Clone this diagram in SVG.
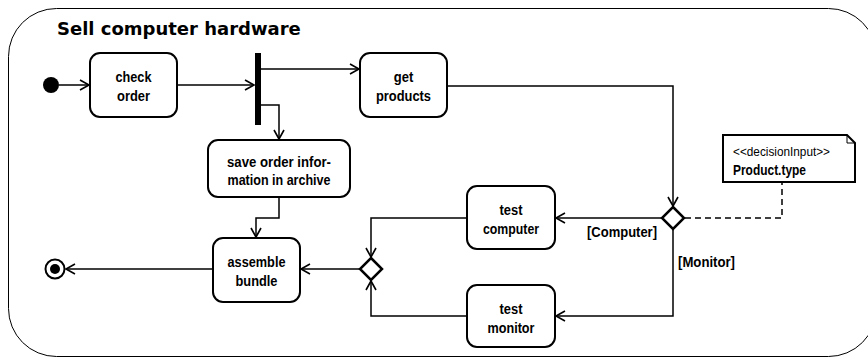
<svg xmlns="http://www.w3.org/2000/svg" width="868" height="358" viewBox="0 0 868 358">
<defs>
<style>
.frame{fill:#fff;stroke:#000;stroke-width:1}
.act{fill:#fff;stroke:#000;stroke-width:2}
.t{font-family:"Liberation Sans",Arial,sans-serif;font-size:15px;font-weight:bold;text-anchor:middle;fill:#000}
.lbl{font-family:"Liberation Sans",Arial,sans-serif;font-size:15px;font-weight:bold;fill:#000}
.edge{fill:none;stroke:#000;stroke-width:1.5}
.dash{fill:none;stroke:#000;stroke-width:1.5;stroke-dasharray:6,4}
.dia{fill:#fff;stroke:#000;stroke-width:2.5}
</style>
<marker id="arr" markerWidth="12" markerHeight="12" refX="10" refY="6" orient="auto" markerUnits="userSpaceOnUse">
<path d="M1,1 L10,6 L1,11" fill="none" stroke="#000" stroke-width="1.6"/>
</marker>
</defs>
<rect class="frame" x="8.5" y="8.5" width="868" height="348" rx="48" ry="48"/>
<text x="57" y="35" style="font-family:'DejaVu Sans',sans-serif;font-size:18px;font-weight:bold">Sell computer hardware</text>

<g id="connectors">
<path class="edge" d="M59,85 L89,85" marker-end="url(#arr)"/>
<path class="edge" d="M177,85 L254,85" marker-end="url(#arr)"/>
<path class="edge" d="M261,69 L359,69" marker-end="url(#arr)"/>
<path class="edge" d="M261,105 L279,105 L279,139" marker-end="url(#arr)"/>
<path class="edge" d="M447,86 L673,86 L673,206" marker-end="url(#arr)"/>
<path class="edge" d="M662,218 L556,218" marker-end="url(#arr)"/>
<path class="edge" d="M673,229 L673,316 L556,316" marker-end="url(#arr)"/>
<path class="edge" d="M467,218 L371,218 L371,257" marker-end="url(#arr)"/>
<path class="edge" d="M467,316 L371,316 L371,281" marker-end="url(#arr)"/>
<path class="edge" d="M360,269 L301,269" marker-end="url(#arr)"/>
<path class="edge" d="M279,197 L279,218 L256,218 L256,237" marker-end="url(#arr)"/>
<path class="edge" d="M213,269 L66,269" marker-end="url(#arr)"/>
<path class="dash" d="M685,218 L782,218 L782,182"/>
<text class="lbl" x="587" y="237" textLength="70" lengthAdjust="spacingAndGlyphs">[Computer]</text>
<text class="lbl" x="678" y="267" textLength="57" lengthAdjust="spacingAndGlyphs">[Monitor]</text>
</g>

<g id="initial"><circle cx="51" cy="85" r="8" fill="#000"/></g>
<g id="final"><circle cx="55" cy="269" r="9.5" fill="#fff" stroke="#000" stroke-width="2"/><circle cx="55" cy="269" r="5" fill="#000"/></g>

<g id="checkOrder"><rect class="act" x="90" y="53" width="87" height="64" rx="10"/><text class="t" x="133.5" y="82" textLength="36" lengthAdjust="spacingAndGlyphs">check</text><text class="t" x="133.5" y="101" textLength="33" lengthAdjust="spacingAndGlyphs">order</text></g>
<g id="fork"><rect x="255" y="53" width="6" height="72" fill="#000"/></g>
<g id="getProducts"><rect class="act" x="360" y="53" width="87" height="64" rx="10"/><text class="t" x="403.5" y="82" textLength="19.5" lengthAdjust="spacingAndGlyphs">get</text><text class="t" x="403.5" y="101" textLength="55" lengthAdjust="spacingAndGlyphs">products</text></g>
<g id="saveOrder"><rect class="act" x="208" y="140" width="142" height="57" rx="10"/><text class="t" x="279" y="167" textLength="104" lengthAdjust="spacingAndGlyphs">save order infor-</text><text class="t" x="279" y="185" textLength="103" lengthAdjust="spacingAndGlyphs">mation in archive</text></g>
<g id="decision"><polygon class="dia" points="673,207 684,218 673,229 662,218"/></g>
<g id="note"><path d="M723,135 L847,135 L855,143 L855,182 L723,182 Z" fill="#fff" stroke="#000" stroke-width="2"/><path d="M847,135 L847,143 L855,143" fill="none" stroke="#000" stroke-width="1"/>
<text x="733" y="156" textLength="97" lengthAdjust="spacingAndGlyphs" style="font-family:'Liberation Sans',Arial,sans-serif;font-size:13px">&lt;&lt;decisionInput&gt;&gt;</text>
<text x="733" y="175" textLength="73" lengthAdjust="spacingAndGlyphs" style="font-family:'Liberation Sans',Arial,sans-serif;font-size:14px;font-weight:bold">Product.type</text></g>
<g id="testComputer"><rect class="act" x="467" y="186" width="88" height="63" rx="10"/><text class="t" x="511" y="215" textLength="23" lengthAdjust="spacingAndGlyphs">test</text><text class="t" x="511" y="234" textLength="56" lengthAdjust="spacingAndGlyphs">computer</text></g>
<g id="testMonitor"><rect class="act" x="467" y="285" width="88" height="62" rx="10"/><text class="t" x="511" y="314" textLength="23" lengthAdjust="spacingAndGlyphs">test</text><text class="t" x="511" y="333" textLength="47" lengthAdjust="spacingAndGlyphs">monitor</text></g>
<g id="merge"><polygon class="dia" points="371,258 382,269 371,280 360,269"/></g>
<g id="assemble"><rect class="act" x="213" y="238" width="87" height="64" rx="10"/><text class="t" x="256.5" y="267" textLength="58" lengthAdjust="spacingAndGlyphs">assemble</text><text class="t" x="256.5" y="286" textLength="42" lengthAdjust="spacingAndGlyphs">bundle</text></g>
</svg>
